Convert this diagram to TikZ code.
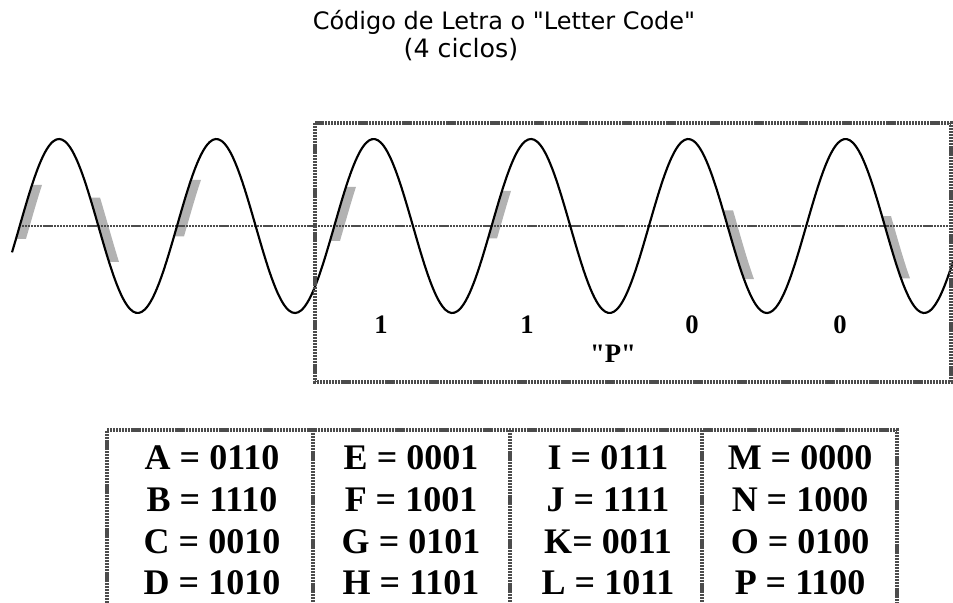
\documentclass[tikz,border=0pt]{standalone}
\usepackage{fontspec}
\setmainfont{Liberation Serif}
\newfontfamily\titlefont{DejaVu Sans}
\usetikzlibrary{positioning}

\begin{document}
\begin{tikzpicture}[
    x=0.75pt,
    y=-0.75pt,
    declare function={wv(\t)=226-87*sin(2.2886*(\t-19.7));},
    carrier/.style={
        draw=black,
        line width=1.6pt
    },
    zeroline/.style={
        draw=gray!60!black,
        line width=2.2pt,
        dash pattern=on 1.6pt off 0.6pt
    },
    shiftpatch/.style={
        fill=gray!60
    },
    framebox/.style={
        draw=gray!60!black,
        line width=2.4pt,
        dash pattern=on 1.6pt off 0.6pt
    },
    codetext/.style={font=\fontsize{27}{30}\selectfont\bfseries},
    bittext/.style={font=\fontsize{20}{22}\selectfont\bfseries}
]
\useasboundingbox (0,0) rectangle (953,603);

% title
\node[font=\titlefont\fontsize{18}{20}\selectfont] (title) at (504,22)
{Código de Letra o "Letter Code"};
\node[font=\titlefont\fontsize{19}{21}\selectfont] (subtitle) at (461,50)
{(4 ciclos)};

% phase shift marks
\foreach \pa/\pb/\ps in {16/32/10, 90/109/10, 174/191/10, 330/346/10,
                         488/502/9, 723/744/10, 882/901/9}
  \fill[shiftpatch] plot[domain=\pa:\pb, samples=20] (\x,{wv(\x)})
    -- plot[domain=\pb:\pa, samples=20] ({\x+\ps},{wv(\x)}) -- cycle;

\coordinate (zl) at (22,226);
\coordinate (zr) at (953,226);
\draw[zeroline] (zl) -- (zr);

% carrier wave
\draw[carrier] plot[domain=12:953, samples=320, smooth] (\x,{wv(\x)});

\draw[framebox] (315,123) rectangle (951,382);

\foreach \bit/\bx [count=\i] in {1/381, 1/527, 0/692, 0/840}
  \node[bittext] (bit\i) at (\bx,325) {\bit};
\node[bittext] (letterP) at (613,354) {\textquotedbl P\textquotedbl};

% code table
\draw[framebox] (107,603) -- (107,430) -- (897,430) -- (897,603);
\foreach \cx in {313, 510, 702}
  \draw[framebox] (\cx,430) -- (\cx,603);

\foreach \name/\txt/\cx/\ry in {
    A/{A = 0110}/212/458, B/{B = 1110}/212/500, C/{C = 0010}/212/542, D/{D = 1010}/212/583,
    E/{E = 0001}/411/458, F/{F = 1001}/411/500, G/{G = 0101}/411/542, H/{H = 1101}/411/583,
    I/{I = 0111}/608/458, J/{J = 1111}/608/500, K/{K= 0011}/608/542, L/{L = 1011}/608/583,
    M/{M = 0000}/800/458, N/{N = 1000}/800/500, O/{O = 0100}/800/542, P/{P = 1100}/800/583}
  \node[codetext] (code\name) at (\cx,\ry) {\txt};

\end{tikzpicture}
\end{document}
